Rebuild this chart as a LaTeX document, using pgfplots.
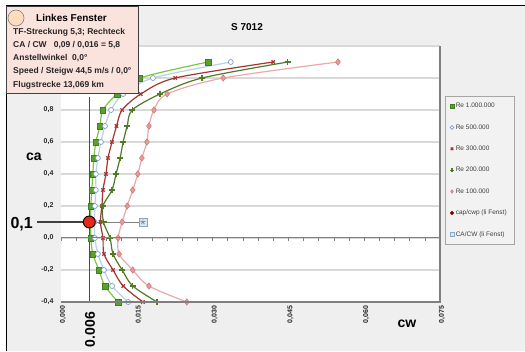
\documentclass[border=0pt]{standalone}
\usepackage{pgfplots}
\pgfplotsset{compat=1.18}
\usepackage{pgfplotstable}
\usepackage{fontspec}
\setmainfont{Liberation Sans}
\definecolor{bggray}{HTML}{EFEFEF}
\definecolor{gridgray}{HTML}{D9D9D9}
\definecolor{framegray}{HTML}{7F7F7F}
\definecolor{g1line}{HTML}{7CC844}
\definecolor{g1fill}{HTML}{5AA02C}
\definecolor{g1edge}{HTML}{3F7F1F}
\definecolor{b5line}{HTML}{B8D0EA}
\definecolor{b5edge}{HTML}{7B9CC8}
\definecolor{r3}{HTML}{A33535}
\definecolor{g2}{HTML}{4F7A28}
\definecolor{p1line}{HTML}{E8AAAA}
\definecolor{p1fill}{HTML}{E89A9A}
\definecolor{p1edge}{HTML}{C87878}
\definecolor{boxfill}{HTML}{FBE3DD}
\definecolor{peach}{HTML}{FDDDBE}
\definecolor{dotred}{HTML}{E5261C}
\definecolor{darkred}{HTML}{8B0000}
\definecolor{starfill}{HTML}{DCE6EE}
\definecolor{staredge}{HTML}{8CA8C0}
\definecolor{legfill}{HTML}{F2F2F2}
\definecolor{leggray}{HTML}{A6A6A6}
\definecolor{textgray}{HTML}{404040}

\pgfplotstableread{
ca   re1    re5    re3    re2    re10
1.1  0.0291 0.0336 0.0420 0.0449 0.0548
1.0  0.0156 0.0182 0.0226 0.0279 0.0321
0.9  0.0111 0.0123 0.0158 0.0196 0.0210
0.8  0.0083 0.0099 0.0121 0.0141 0.0184
0.7  0.0077 0.0087 0.0110 0.0131 0.0174
0.6  0.0069 0.0079 0.0101 0.0123 0.0170
0.5  0.0065 0.0073 0.0093 0.0117 0.0160
0.4  0.0063 0.0069 0.0089 0.0109 0.0152
0.3  0.0061 0.0069 0.0083 0.0101 0.0142
0.2  0.0059 0.0067 0.0081 0.0083 0.0131
0.1  0.0059 0.0066 0.0078 0.0084 0.0121
0.0  0.0059 0.0067 0.0083 0.0097 0.0113
-0.1 0.0063 0.0073 0.0085 0.0103 0.0115
-0.2 0.0075 0.0085 0.0103 0.0121 0.0142
-0.3 0.0087 0.0101 0.0123 0.0142 0.0174
-0.4 0.0113 0.0133 0.0162 0.0190 0.0249
}\polar

\begin{document}
\begin{tikzpicture}
\useasboundingbox (0,0) rectangle (525pt,351pt);
\fill[white] (0,0) rectangle (525pt,351pt);
\fill[bggray] (6pt,0) rectangle (525pt,345pt);
\draw[black, line width=1pt] (6pt,0) -- (6pt,345pt) -- (525pt,345pt);

\begin{axis}[
  at={(61pt,49pt)}, anchor=south west, scale only axis,
  width=379pt, height=256pt,
  xmin=0, xmax=0.075, ymin=-0.4, ymax=1.2,
  clip=false,
  scaled x ticks=false, scaled y ticks=false,
  axis background/.style={fill=white},
  axis line style={draw=none},
  major tick length=0pt,
  xtick={0,0.015,0.03,0.045,0.06,0.075},
  xticklabels={{0,000},{0,015},{0,030},{0,045},{0,060},{0,075}},
  ytick={-0.4,-0.2,0,0.2,0.4,0.6,0.8,1.0,1.2},
  yticklabels={{-0,4},{-0,2},{0,0},{0,2},{0,4},{0,6},{0,8},{},{}},
  /pgf/number format/assume math mode=true,
  xticklabel style={rotate=90, anchor=east, font=\bfseries\fontsize{7}{8}\selectfont, text=black!85, yshift=-2pt},
  yticklabel style={anchor=east, font=\bfseries\fontsize{7}{8}\selectfont, text=black!85, xshift=-4pt},
  ymajorgrids,
  grid style={gridgray, line width=1.3pt},
  legend style={at={(axis description cs:1.0132,0.805)}, anchor=north west,
    fill=legfill, draw=leggray, font=\fontsize{6.5}{7}\selectfont\color{textgray},
    row sep=11.3pt, inner xsep=5pt, inner ysep=5pt},
  legend cell align=left,
  legend image code/.code={\draw[#1,only marks] plot coordinates {(0.1cm,0cm)};},
  legend image post style={mark size=1.8pt},
]
\addplot[g1line, line width=1.2pt, smooth, mark=square*, mark size=2.8pt,
  mark options={fill=g1fill, draw=g1edge, line width=0.5pt}]
  table[x=re1, y=ca]{\polar};
\addlegendentry{Re 1.000.000}
\addplot[b5line, line width=1.2pt, smooth, mark=*, mark size=2.5pt,
  mark options={fill=white, draw=b5edge, line width=0.7pt}]
  table[x=re5, y=ca]{\polar};
\addlegendentry{Re 500.000}
\addplot[r3, line width=1.2pt, smooth, mark=x, mark size=2.4pt,
  mark options={draw=r3, line width=1.2pt}]
  table[x=re3, y=ca]{\polar};
\addlegendentry{Re 300.000}
\addplot[g2, line width=1.2pt, smooth, mark=+, mark size=3.2pt,
  mark options={draw=g2, line width=1.2pt}]
  table[x=re2, y=ca]{\polar};
\addlegendentry{Re 200.000}
\addplot[p1line, line width=1.2pt, smooth, mark=diamond*, mark size=3.2pt,
  mark options={fill=p1fill, draw=p1edge, line width=0.5pt}]
  table[x=re10, y=ca]{\polar};
\addlegendentry{Re 100.000}

% connecting line and reference lines
\addplot[forget plot, gray, line width=0.8pt] coordinates {(0.0056,0.1) (0.0162,0.1)};
\addplot[forget plot, black!75, line width=1.2pt] coordinates {(-0.0047,0.1) (0.0056,0.1)};
\addplot[forget plot, only marks, mark=*, mark size=6pt,
  mark options={fill=dotred, draw=black, line width=0.9pt}] coordinates {(0.0056,0.1)};
\addplot[forget plot, black!70, line width=1.5pt] coordinates {(0.0056,0.88) (0.0056,-0.4)};
\addplot[forget plot, only marks, mark=square*, mark size=4pt,
  mark options={fill=starfill, draw=staredge, line width=0.6pt}] coordinates {(0.0162,0.1)};
\addplot[forget plot, only marks, mark=star, mark size=2.6pt,
  mark options={draw=gray, line width=0.6pt}] coordinates {(0.0162,0.1)};

\addlegendimage{only marks, mark=*, mark options={fill=darkred, draw=darkred}}
\addlegendentry{cap/cwp (li Fenst)\hspace{12pt}}
\addlegendimage{only marks, mark=square*, mark options={fill=starfill, draw=staredge}}
\addlegendentry{CA/CW (li Fenst)}
\end{axis}

% zero line with ticks and frame
\draw[framegray, line width=1pt] (61pt,113pt) -- (440pt,113pt);
\foreach \i in {0,...,25} {\draw[framegray, line width=0.6pt] ({(61+\i*15.16)*1pt},113pt) -- ++(0,-3pt);}
\draw[framegray, line width=1.2pt] (61pt,49pt) -- (440pt,49pt) -- (440pt,305pt);

% labels
\node[font=\bfseries\fontsize{10}{12}\selectfont] at (247pt,324pt) {S 7012};
\node[font=\bfseries\fontsize{14}{16}\selectfont] at (34pt,194pt) {ca};
\node[font=\bfseries\fontsize{14}{16}\selectfont] at (407pt,27pt) {cw};
\node[font=\bfseries\fontsize{16}{18}\selectfont, anchor=east, inner sep=0pt] at (33pt,127pt) {0,1};
\node[font=\bfseries\fontsize{14}{16}\selectfont, rotate=90, anchor=east, inner sep=0pt] at (90pt,39pt) {0.006};

% info box
\fill[boxfill, draw=black!75, line width=0.8pt] (6pt,258pt) rectangle (138pt,345pt);
\fill[peach, draw=gray, line width=0.6pt] (16pt,333pt) circle (8pt);
\node[anchor=west, inner sep=0pt, font=\bfseries\fontsize{10}{12}\selectfont] at (36pt,333pt) {Linkes Fenster};
\begin{scope}[every node/.style={anchor=west, inner sep=0pt, font=\bfseries\fontsize{8.5}{10}\selectfont, text=black!85}]
\node at (13pt,319pt) {TF-Streckung 5,3; Rechteck};
\node at (13pt,306pt) {CA / CW\ \ \ 0,09 / 0,016 = 5,8};
\node at (13pt,293pt) {Anstellwinkel\ \ 0,0°};
\node at (13pt,280pt) {Speed / Steigw 44,5 m/s / 0,0°};
\node at (13pt,266pt) {Flugstrecke 13,069 km};
\end{scope}
\end{tikzpicture}
\end{document}
